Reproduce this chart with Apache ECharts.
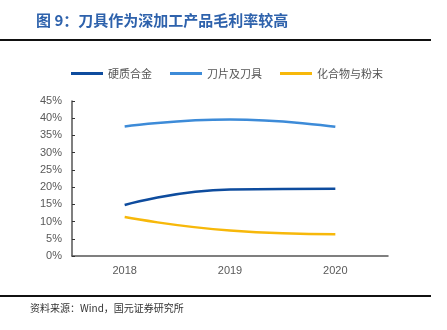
<!DOCTYPE html>
<html><head><meta charset="utf-8">
<script src="https://cdn.jsdelivr.net/npm/echarts@6/dist/echarts.min.js"></script>
<style>html,body{margin:0;padding:0;background:#fff;}#c{width:447px;height:330px;}</style>
</head><body><div id="c"></div>
<script>
const categories = ['2018', '2019', '2020'];
const seriesNames = ['硬质合金', '刀片及刀具', '化合物与粉末'];
const hardAlloy = [14.8, 19.3, 19.5];
const bladeTools = [37.6, 39.6, 37.5];
const powder = [11.3, 7.4, 6.3];
const yTicks = [0, 5, 10, 15, 20, 25, 30, 35, 40, 45];
const colors = ['#0e4c9e', '#3d8bd8', '#f7b80a'];

const chart = echarts.init(document.getElementById('c'));
const font = '"Noto Sans CJK SC", sans-serif';
chart.setOption({
  animation: false,
  textStyle: { fontFamily: font },
  title: {
    text: '图 9：刀具作为深加工产品毛利率较高',
    left: 31, top: 8,
    textStyle: { color: '#2e62ac', fontSize: 15, fontWeight: 'bold', fontFamily: font }
  },
  graphic: [
    { type: 'line', shape: { x1: 0, y1: 40, x2: 431, y2: 40 }, style: { stroke: '#111', lineWidth: 2 } },
    { type: 'line', shape: { x1: 0, y1: 296, x2: 431, y2: 296 }, style: { stroke: '#111', lineWidth: 2 } },
    { type: 'text', left: 30, top: 303, style: { text: '资料来源：Wind，国元证券研究所', fill: '#333', font: '10px ' + font } }
  ],
  legend: {
    top: 63, left: 66,
    itemWidth: 32, itemHeight: 3, itemGap: 18,
    icon: 'rect',
    textStyle: { color: '#555', fontSize: 11 },
    data: seriesNames
  },
  grid: { left: 72, right: 59, top: 101, bottom: 74 },
  xAxis: {
    type: 'category', data: categories, boundaryGap: true,
    axisLine: { lineStyle: { color: '#555', width: 1.5 } },
    axisTick: { inside: true, length: 3, lineStyle: { color: '#333' } },
    axisLabel: { color: '#595959', fontSize: 11, margin: 9, fontFamily: 'Liberation Sans, Arial' }
  },
  yAxis: {
    type: 'value', min: 0, max: 45, interval: 5,
    splitLine: { show: false },
    axisLine: { show: true, lineStyle: { color: '#555', width: 1.5 } },
    axisTick: { show: true, inside: true, length: 3, lineStyle: { color: '#333' } },
    axisLabel: { color: '#595959', fontSize: 11, margin: 10, fontFamily: 'Liberation Sans, Arial',
      formatter: v => yTicks.includes(v) ? v + '%' : '' }
  },
  series: [
    { name: seriesNames[0], type: 'line', data: hardAlloy, smooth: true, showSymbol: false, lineStyle: { width: 2.5, color: colors[0] }, itemStyle: { color: colors[0] } },
    { name: seriesNames[1], type: 'line', data: bladeTools, smooth: true, showSymbol: false, lineStyle: { width: 2.5, color: colors[1] }, itemStyle: { color: colors[1] } },
    { name: seriesNames[2], type: 'line', data: powder, smooth: true, showSymbol: false, lineStyle: { width: 2.5, color: colors[2] }, itemStyle: { color: colors[2] } }
  ]
});
</script></body></html>
